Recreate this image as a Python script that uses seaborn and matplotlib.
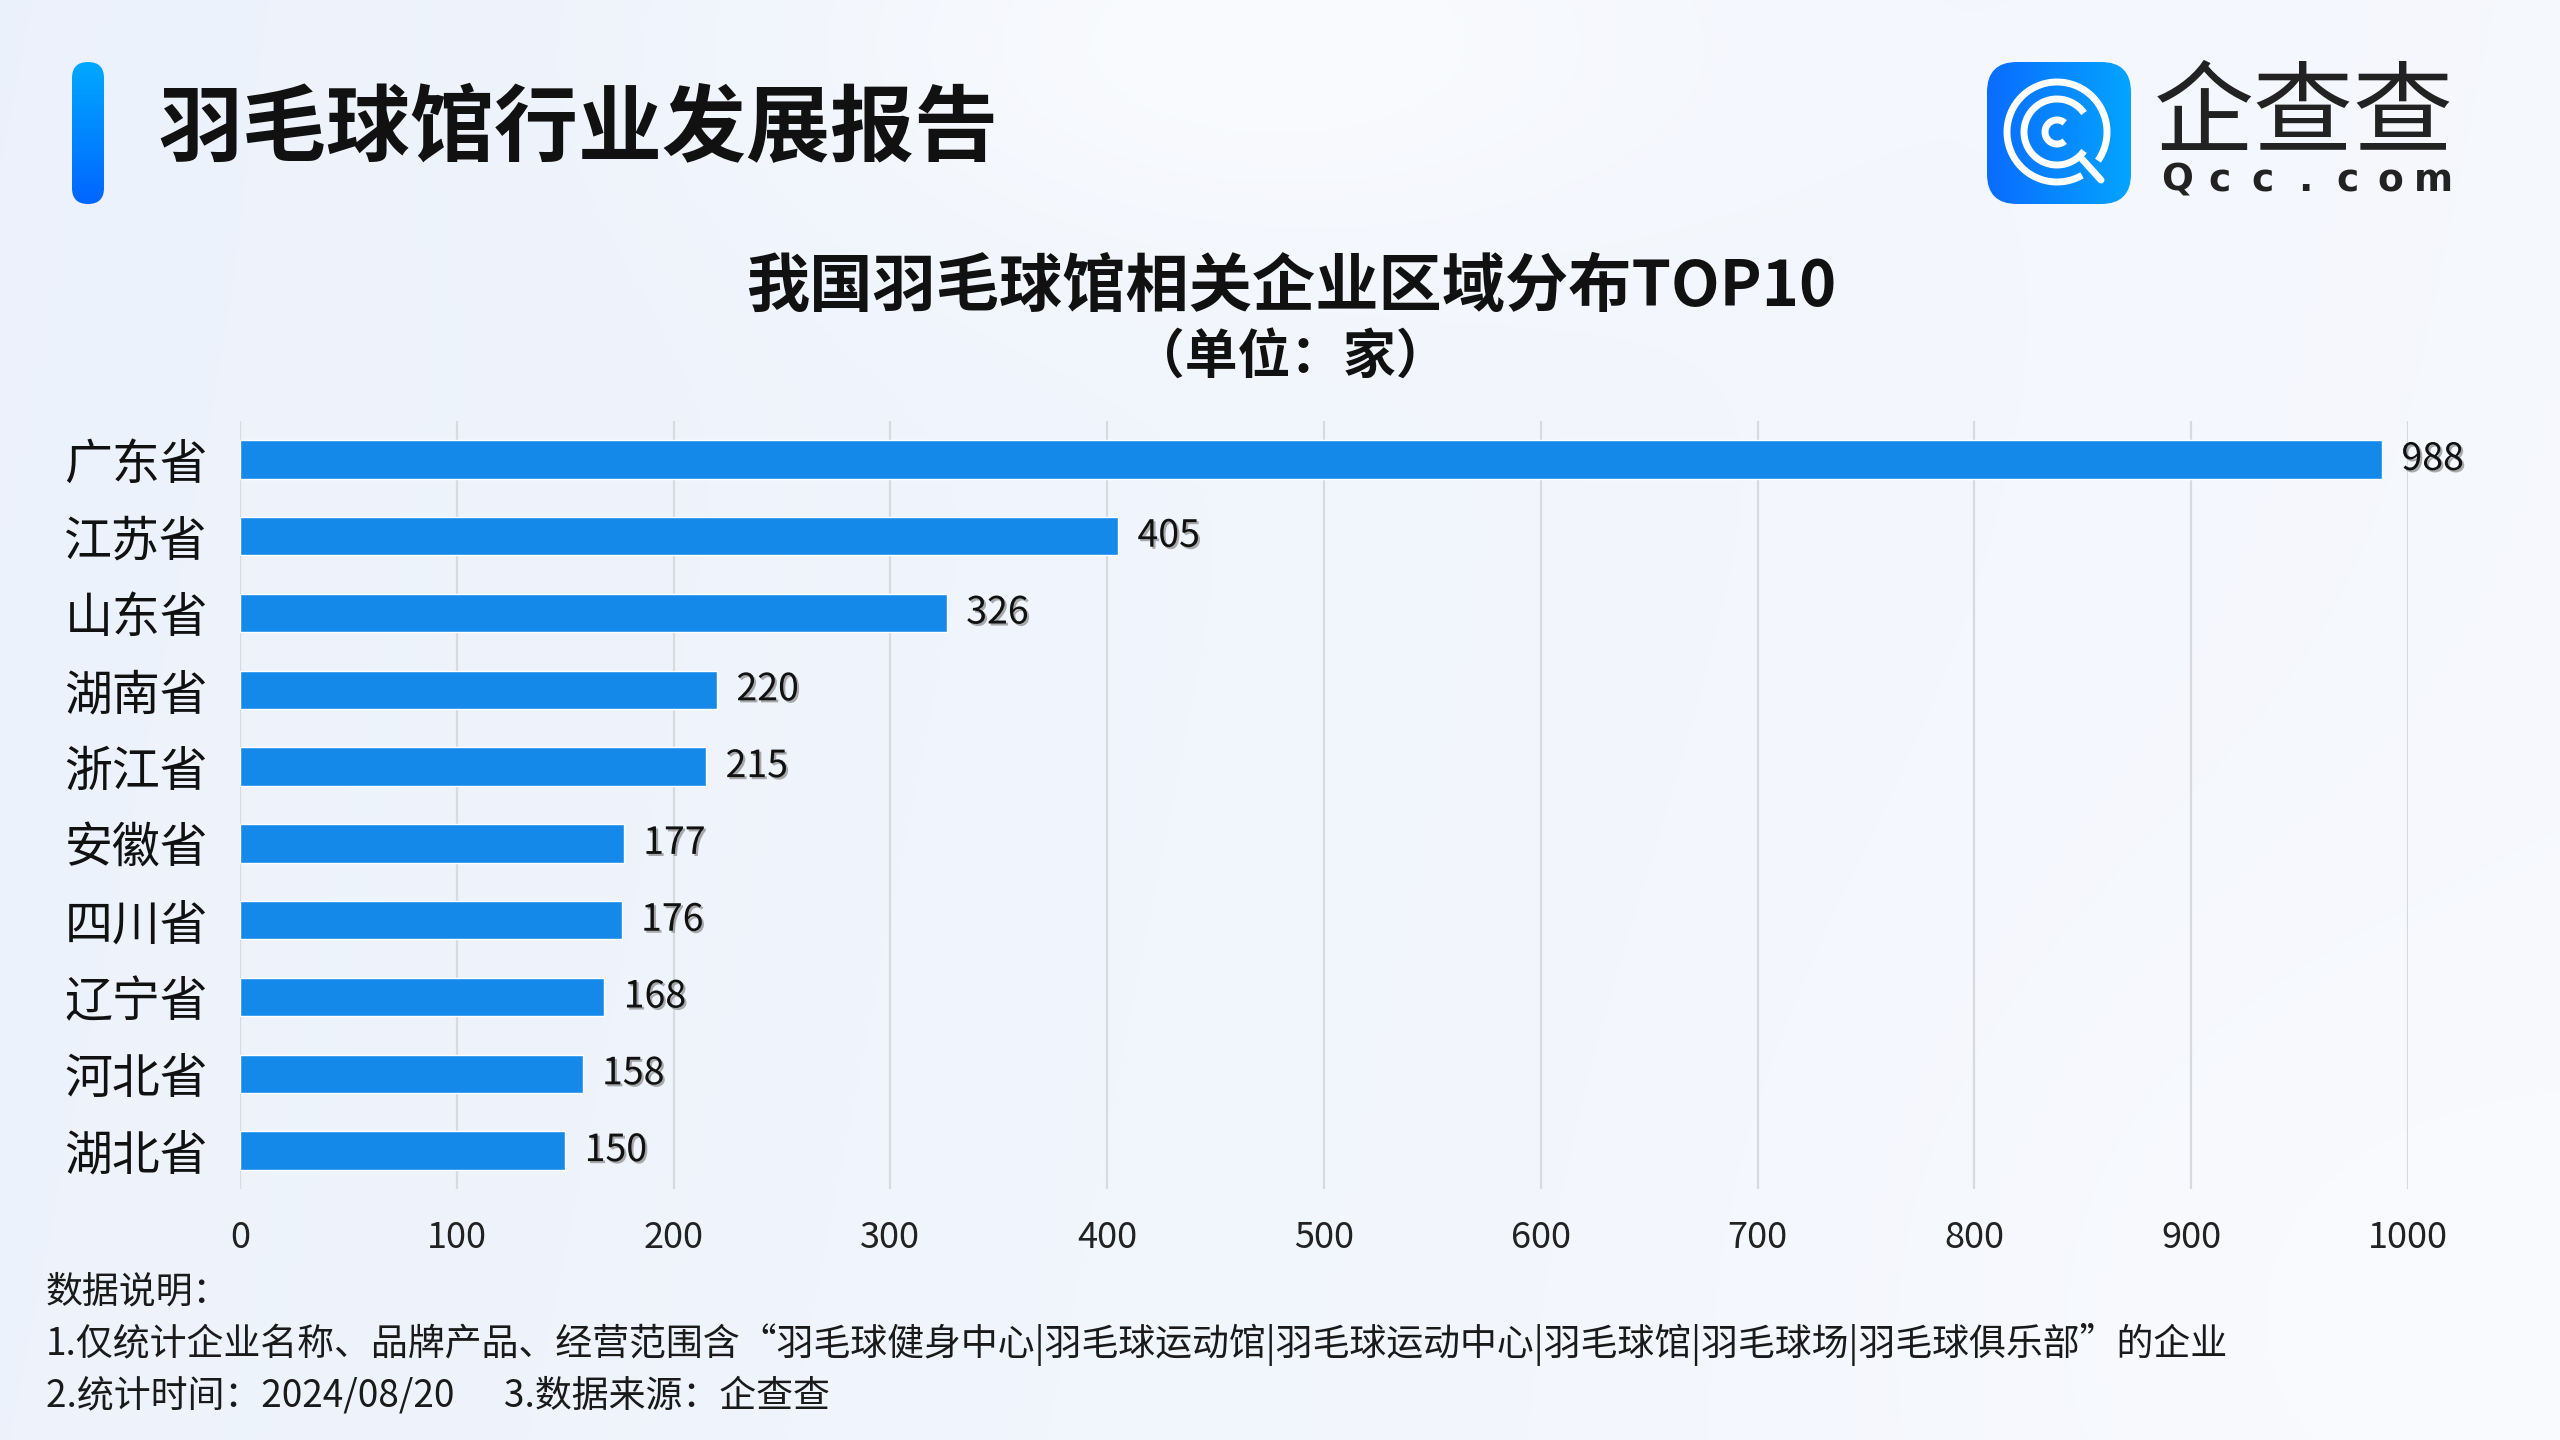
import numpy as np
import matplotlib
matplotlib.use("Agg")
import matplotlib.pyplot as plt
import matplotlib.patheffects as pe
from matplotlib.patches import FancyBboxPatch
from matplotlib.colors import LinearSegmentedColormap
import seaborn as sns

# 数据
provinces = ["广东省", "江苏省", "山东省", "湖南省", "浙江省",
             "安徽省", "四川省", "辽宁省", "河北省", "湖北省"]
counts = [988, 405, 326, 220, 215, 177, 176, 168, 158, 150]
x_ticks = [0, 100, 200, 300, 400, 500, 600, 700, 800, 900, 1000]

header = "羽毛球馆行业发展报告"
title = "我国羽毛球馆相关企业区域分布TOP10"
subtitle = "（单位：家）"
notes = [
    "数据说明：",
    "1.仅统计企业名称、品牌产品、经营范围含“羽毛球健身中心|羽毛球运动馆|羽毛球运动中心|羽毛球馆|羽毛球场|羽毛球俱乐部”的企业",
    "2.统计时间：2024/08/20      3.数据来源：企查查",
]

sns.set_theme(style="white")
plt.rcParams["font.family"] = ["Noto Sans CJK SC", "DejaVu Sans"]

W, H = 2560, 1440
fig = plt.figure(figsize=(25.6, 14.4), dpi=100)

# ---------------------------------------------------------------------------
# 背景和装饰 (像素坐标)
# ---------------------------------------------------------------------------
bg = fig.add_axes([0, 0, 1, 1], zorder=-10)
bg.set_xlim(0, W)
bg.set_ylim(H, 0)
bg.axis("off")

yy, xx = np.mgrid[0:H:4, 0:W:4]
c0 = np.array([0.925, 0.948, 0.985])
c1 = np.array([0.968, 0.976, 0.995])
t = np.clip(xx / W * 0.9 + yy / H * 0.1, 0, 1)[..., None]
img = c0 * (1 - t) + c1 * t
blob = np.exp(-(((xx - 1250) / 450) ** 2 + ((yy - 40) / 220) ** 2))[..., None]
img = img + (1 - img) * 0.6 * blob
blob2 = np.exp(-(((xx - 2400) / 500) ** 2 + ((yy - 1300) / 400) ** 2))[..., None]
img = img + (1 - img) * 0.3 * blob2
bg.imshow(img, extent=[0, W, H, 0], aspect="auto", interpolation="bilinear")

# 左侧竖条
pill = FancyBboxPatch((72, 62), 32, 142, boxstyle="round,pad=0,rounding_size=16",
                      transform=bg.transData, facecolor="none", edgecolor="none")
bg.add_patch(pill)
grad_v = np.linspace(0, 1, 100)[:, None]
cm_pill = LinearSegmentedColormap.from_list("pill", ["#00A8FF", "#0066FF"])
im = bg.imshow(grad_v, cmap=cm_pill, extent=[72, 104, 204, 62], aspect="auto")
im.set_clip_path(pill)

bg.text(158, 130, header, fontsize=60.5, fontweight="black", color="#111111",
        va="center", ha="left")

# 企查查 logo
logo = FancyBboxPatch((1987, 62), 144, 142, boxstyle="round,pad=0,rounding_size=30",
                      transform=bg.transData, facecolor="none", edgecolor="none")
bg.add_patch(logo)
grad_h = np.linspace(0, 1, 100)[None, :]
cm_logo = LinearSegmentedColormap.from_list("logo", ["#0A6CFF", "#04A4FF"])
im2 = bg.imshow(grad_h, cmap=cm_logo, extent=[1987, 2131, 204, 62], aspect="auto")
im2.set_clip_path(logo)

cx, cy = 2057, 132


def arc(r, a0, a1, lw):
    a = np.radians(np.linspace(a0, a1, 120))
    bg.plot(cx + r * np.cos(a), cy - r * np.sin(a), color="white", lw=lw,
            solid_capstyle="butt")


arc(50, -35, 300, 5)
arc(33, 35, 325, 5)
arc(12, 50, 310, 5)
bg.plot([cx + 25, cx + 44], [cy + 27, cy + 48], color="white", lw=5)

bg.text(2304, 116, "企查查", fontsize=72, fontweight="light", color="#222222",
        ha="center", va="center")
for i, ch in enumerate("Qcc.com"):
    bg.text(2177 + i * 42.7, 181, ch, fontsize=27, fontweight="bold",
            color="#222222", ha="center", va="center", family="DejaVu Sans")

# 标题
bg.text(1291, 287, title, fontsize=45.5, fontweight="bold", color="#111111",
        ha="center", va="center")
bg.text(1290, 357, subtitle, fontsize=38, fontweight="bold", color="#111111",
        ha="center", va="center")

# 说明
for i, line in enumerate(notes):
    bg.text(46, 1292 + i * 52, line, fontsize=26.6, color="#1a1a1a",
            ha="left", va="center")

# ---------------------------------------------------------------------------
# 条形图
# ---------------------------------------------------------------------------
ax = fig.add_axes([240 / W, 1 - 1189 / H, (2408 - 240) / W, (1189 - 421) / H])
ax.patch.set_alpha(0)
sns.barplot(x=counts, y=provinces, orient="h", color="#1589EA", width=0.5,
            saturation=1, ax=ax, zorder=3)
ax.set_xlim(0, 1000)
ax.set_xticks(x_ticks)
ax.grid(axis="x", color="#D8DADF", linewidth=1.6, zorder=0)
ax.grid(axis="y", visible=False)
for s in ax.spines.values():
    s.set_visible(False)
ax.tick_params(axis="x", length=0, pad=22, labelsize=26, labelcolor="#222222")
ax.tick_params(axis="y", length=0, pad=23, labelsize=34.5, labelcolor="#111111")
for lb in ax.get_yticklabels():
    lb.set_va("center_baseline")
ax.set_xlabel("")
ax.set_ylabel("")

labels = ax.bar_label(ax.containers[0], padding=14, fontsize=27, color="#111111")
for lb in labels:
    lb.set_path_effects([pe.withSimplePatchShadow(offset=(1.5, -1.5),
                                                  shadow_rgbFace="#777777",
                                                  alpha=0.6)])

fig.savefig("out.png", dpi=100)
